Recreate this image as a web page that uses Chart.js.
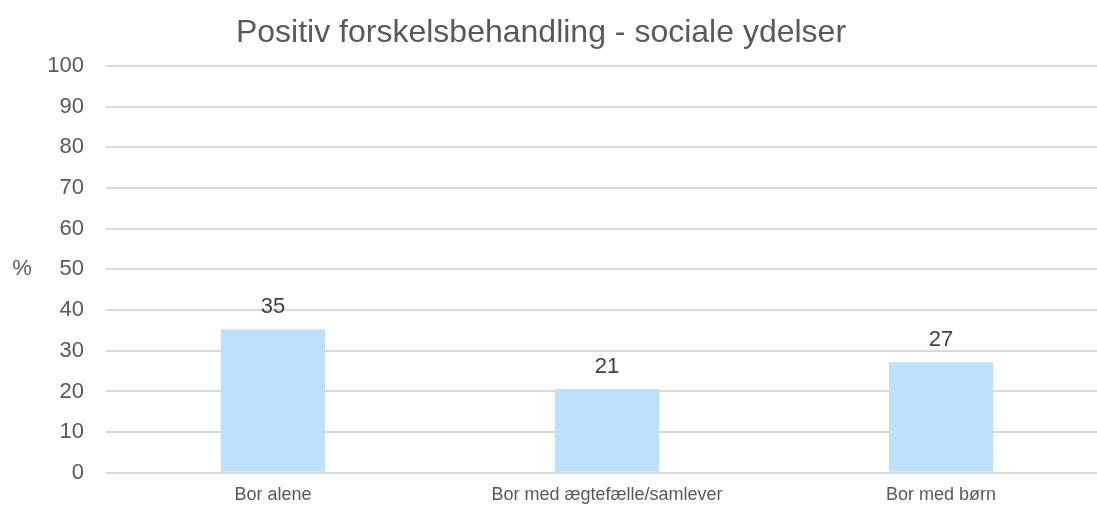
<!DOCTYPE html>
<html>
<head>
<meta charset="utf-8">
<script src="https://cdn.jsdelivr.net/npm/chart.js@4/dist/chart.umd.min.js"></script>
<style>
  html, body { margin: 0; padding: 0; background: #ffffff; overflow: hidden; width: 1097px; height: 508px; }
  #clip { position: relative; width: 1097px; height: 508px; overflow: hidden; }
  #wrap { position: absolute; left: 0; top: 0; width: 1110px; height: 508px; }
</style>
</head>
<body>
<div id="clip"><div id="wrap"><canvas id="c" width="1110" height="508"></canvas></div></div>
<script>
const chartTitle = "Positiv forskelsbehandling - sociale ydelser";
const yAxisTitle = "%";
const categories = ["Bor alene", "Bor med ægtefælle/samlever", "Bor med børn"];
const values = [35.3, 20.6, 27.2];
const yMin = 0, yMax = 100, yStep = 10;

const FONT = "'Liberation Sans', Arial, sans-serif";

const extrasPlugin = {
  id: 'extras',
  afterDatasetsDraw(chart) {
    const ctx = chart.ctx;
    const area = chart.chartArea;
    ctx.save();
    // data labels
    const meta = chart.getDatasetMeta(0);
    ctx.fillStyle = '#404040';
    ctx.font = "22px " + FONT;
    ctx.textAlign = 'center';
    ctx.textBaseline = 'alphabetic';
    meta.data.forEach((bar, i) => {
      ctx.fillText(String(Math.round(values[i])), bar.x, bar.y - 16);
    });
    // title
    ctx.fillStyle = '#595959';
    ctx.font = "32px " + FONT;
    ctx.textAlign = 'center';
    ctx.textBaseline = 'alphabetic';
    ctx.fillText(chartTitle, 541, 42);
    // y axis title (horizontal)
    ctx.font = "22px " + FONT;
    ctx.textAlign = 'center';
    ctx.textBaseline = 'middle';
    ctx.fillText(yAxisTitle, 22, (area.top + area.bottom) / 2);
    ctx.restore();
  }
};

new Chart(document.getElementById('c'), {
  type: 'bar',
  data: {
    labels: categories,
    datasets: [{
      data: values,
      backgroundColor: '#BDE0FB',
      borderWidth: 0,
      categoryPercentage: 1,
      barPercentage: 0.312
    }]
  },
  options: {
    responsive: false,
    animation: false,
    devicePixelRatio: 1,
    layout: { padding: { top: 66, right: 2, bottom: 0, left: 0 } },
    plugins: {
      legend: { display: false },
      title: { display: false },
      tooltip: { enabled: false }
    },
    scales: {
      x: {
        afterFit(scale) { scale.height = 33; },
        grid: { display: false, drawTicks: false },
        border: { display: false },
        ticks: { color: '#595959', font: { family: FONT, size: 18 }, padding: 11, maxRotation: 0 }
      },
      y: {
        min: yMin, max: yMax,
        afterFit(scale) { scale.width = 106; },
        grid: { color: '#D9D9D9', lineWidth: 2, drawTicks: false },
        border: { display: false },
        ticks: { stepSize: yStep, color: '#595959', font: { family: FONT, size: 22 }, padding: 22 }
      }
    }
  },
  plugins: [extrasPlugin]
});
</script>
</body>
</html>
